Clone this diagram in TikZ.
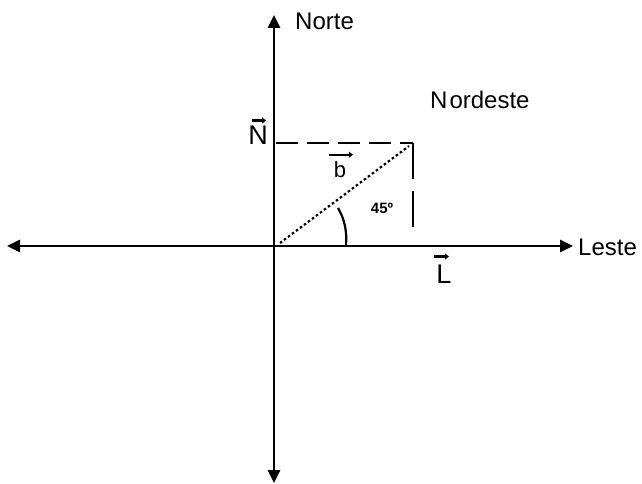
\documentclass[tikz,border=0pt]{standalone}
\usepackage{fontspec}
\setmainfont{Liberation Sans}
\usetikzlibrary{arrows.meta}
\tikzset{
  axis/.style={line width=2.8pt, -{Triangle[length=13pt,width=12pt]}},
  helper/.style={line width=2.8pt, dash pattern=on 22pt off 9pt},
  vdash/.style={line width=2.8pt, dash pattern=on 36pt off 12pt},
  dotline/.style={line width=2.2pt, dash pattern=on 2.5pt off 2.5pt},
  lbl/.style={inner sep=0pt, font=\fontsize{24}{28}\selectfont},
  vlbl/.style={inner sep=0pt, font=\fontsize{27}{30}\selectfont},
  vecbar/.style={line width=2.4pt, -{Triangle[length=4pt,width=6pt]}},
}
\begin{document}
\begin{tikzpicture}[x=1pt,y=-1pt]
\useasboundingbox (0,0) rectangle (642,484);
% origin and axis ends
\coordinate (O) at (274,246);
\coordinate (top) at (274,15);
\coordinate (bot) at (274,483);
\coordinate (left) at (7,246);
\coordinate (right) at (573,246);
\draw[axis] (O) -- (top);
\draw[axis] (O) -- (bot);
\draw[axis] (O) -- (left);
\draw[axis] (O) -- (right);
% resultant corner
\coordinate (P) at (413,143);
\coordinate (Ny) at (276,143);
\coordinate (Lx) at (413,236);
\draw[helper] (Ny) -- (P);
\draw[vdash] (P) -- (Lx);
\coordinate (Ds) at (280,243);
\coordinate (De) at (409,146);
\draw[dotline] (Ds) -- (De);
% angle mark
\coordinate (A1) at (338,208);
\coordinate (A2) at (346,245);
\draw[line width=2.2pt] (A1) .. controls (345,220) and (347,232) .. (A2);
% labels
\node[lbl, anchor=west] (norte) at (295,21) {Norte};
\node[lbl, anchor=west] (leste) at (578,247) {Leste};
\node[lbl, anchor=west] (nordeste) at (430,100) {N\kern2pt ordeste};
\node[vlbl] (nlab) at (258,135) {N};
\node[inner sep=0pt, font=\fontsize{22}{26}\selectfont] (blab) at (340,170) {b};
\node[vlbl] (llab) at (444,274) {L};
\node[inner sep=0pt, font=\fontsize{15}{16}\selectfont\bfseries] (ang) at (382,208) {45º};
\draw[vecbar] ([xshift=-6pt,yshift=5pt]nlab.north) -- ++(14,0);
\draw[vecbar] ([xshift=-11pt,yshift=7pt]blab.north) -- ++(24,0);
\draw[vecbar] ([xshift=-10pt,yshift=8pt]llab.north) -- ++(15,0);
\end{tikzpicture}
\end{document}
